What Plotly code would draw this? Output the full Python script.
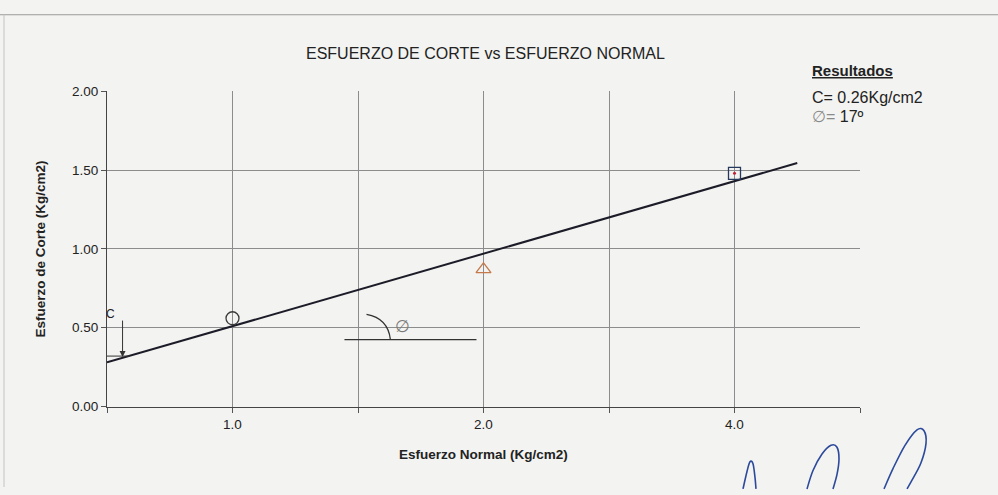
import math
from decimal import Decimal, ROUND_HALF_UP
import numpy as np
import plotly.graph_objects as go

# ---- test data (direct shear) ----
normal_stress = [1.0, 2.0, 4.0]          # Kg/cm2
shear_stress = [0.56, 0.87, 1.48]        # Kg/cm2
x_tick_labels = ["1.0", "2.0", "4.0"]
y_tick_values = [0.0, 0.5, 1.0, 1.5, 2.0]
marker_symbols = ["circle-open", "triangle-up-open", "square-open"]
marker_colors = ["#3a3a3a", "#c47a4c", "#26395c"]

W, H = 998, 495
FONT = "Liberation Sans, Arial, sans-serif"
INK = "#222222"

# category positions along the horizontal axis
pos = np.arange(len(normal_stress), dtype=float)

# trend line drawn over the category positions
slope_i, icpt_i = np.polyfit(pos, shear_stress, 1)
trend_x = np.array([-0.5, 2.25])
trend_y = icpt_i + slope_i * trend_x

# Mohr-Coulomb parameters from the real normal stresses
tan_phi, cohesion = np.polyfit(normal_stress, shear_stress, 1)
phi_deg = math.degrees(math.atan(tan_phi))
cohesion_txt = str(Decimal(str(round(cohesion, 6))).quantize(Decimal("0.01"), ROUND_HALF_UP))
phi_txt = str(Decimal(str(round(phi_deg, 6))).quantize(Decimal("1"), ROUND_HALF_UP))

# plot area placement in pixels
PL, PR, PT, PB = 107, 860, 87, 412


def paper(x, y):
    return x / W, 1 - y / H


def smooth_path(points):
    """Catmull-Rom spline through pixel points, as an SVG path in paper units."""
    pts = [paper(x, y) for x, y in points]
    d = "M %.5f,%.5f" % pts[0]
    for i in range(len(pts) - 1):
        p0 = pts[i - 1] if i > 0 else pts[i]
        p1, p2 = pts[i], pts[i + 1]
        p3 = pts[i + 2] if i + 2 < len(pts) else pts[i + 1]
        c1 = (p1[0] + (p2[0] - p0[0]) / 6, p1[1] + (p2[1] - p0[1]) / 6)
        c2 = (p2[0] - (p3[0] - p1[0]) / 6, p2[1] - (p3[1] - p1[1]) / 6)
        d += " C %.5f,%.5f %.5f,%.5f %.5f,%.5f" % (c1 + c2 + p2)
    return d


def label(px, py, text, size, bold=False, color=INK, anchor="center", angle=0):
    x, y = paper(px, py)
    return dict(x=x, y=y, xref="paper", yref="paper", xanchor=anchor, yanchor="middle",
                showarrow=False, textangle=angle,
                text="<b>%s</b>" % text if bold else text,
                font=dict(family=FONT, size=size, color=color))


fig = go.Figure()

# trend line
fig.add_trace(go.Scatter(
    x=trend_x, y=trend_y, mode="lines",
    line=dict(color="#1c1c28", width=2), hoverinfo="skip",
))

# test points
for i in range(len(normal_stress)):
    fig.add_trace(go.Scatter(
        x=[pos[i]], y=[shear_stress[i]], mode="markers",
        marker=dict(symbol=marker_symbols[i], size=13 if i < 2 else 12,
                    color=marker_colors[i], line=dict(width=1.3, color=marker_colors[i])),
    ))
# small centre dot of the square marker
fig.add_trace(go.Scatter(
    x=[pos[2]], y=[shear_stress[2]], mode="markers",
    marker=dict(symbol="circle", size=3, color="#c0223a"),
))

shapes = []
annotations = []

# page edge lines
shapes.append(dict(type="line", xref="paper", yref="paper",
                   x0=0, x1=1, y0=paper(0, 8)[1], y1=paper(0, 8)[1],
                   line=dict(color="#9a9a9a", width=1)))
shapes.append(dict(type="line", xref="paper", yref="paper",
                   x0=paper(4, 0)[0], x1=paper(4, 0)[0], y0=0, y1=paper(0, 8)[1],
                   line=dict(color="#c4c4c4", width=1)))

# angle sketch: horizontal reference, arc and phi label
shapes.append(dict(type="line", xref="x", yref="y", x0=0.446, x1=0.972, y0=0.425, y1=0.425,
                   line=dict(color="#333333", width=1.3)))
shapes.append(dict(type="path", xref="x", yref="y",
                   path="M 0.534,0.585 Q 0.620,0.560 0.629,0.425",
                   line=dict(color="#333333", width=1.3)))
annotations.append(dict(x=0.677, y=0.505, xref="x", yref="y", text="∅", showarrow=False,
                        xanchor="center", yanchor="middle",
                        font=dict(family=FONT, size=17, color="#7a7a7a")))

# cohesion marker
shapes.append(dict(type="line", xref="x", yref="y", x0=-0.5, x1=-0.41, y0=0.32, y1=0.32,
                   line=dict(color="#333333", width=1)))
annotations.append(dict(x=-0.438, y=0.315, ax=-0.438, ay=0.555, xref="x", yref="y",
                        axref="x", ayref="y", text="", showarrow=True, arrowhead=2,
                        arrowsize=1.2, arrowwidth=1, arrowcolor="#333333"))
annotations.append(dict(x=-0.486, y=0.59, xref="x", yref="y", text="C", showarrow=False,
                        xanchor="center", yanchor="middle",
                        font=dict(family=FONT, size=12, color=INK)))

# titles
annotations.append(label(485, 48, "ESFUERZO DE CORTE vs ESFUERZO NORMAL", 16))
annotations.append(label(483, 461, "Esfuerzo Normal (Kg/cm2)", 13.5, bold=True))
annotations.append(label(40, 250, "Esfuerzo de Corte (Kg/cm2)", 13.5, bold=True, angle=-90))

# results box
annotations.append(label(810, 66, "<u>Resultados</u>", 15, bold=True, anchor="left"))
annotations.append(label(810, 93, "C= %sKg/cm2" % cohesion_txt, 16, anchor="left"))
annotations.append(label(810, 113, "<span style='color:#8a8a8a'>∅=</span> %sº" % phi_txt,
                         16, anchor="left"))

# signature
signature = [
    [(743, 497), (747, 479), (750, 469), (753, 471), (755, 485), (756, 497)],
    [(807, 497), (813, 478), (822, 461), (831, 452), (837, 454), (839, 466), (837, 482), (833, 497)],
    [(884, 497), (893, 476), (905, 452), (917, 436), (924, 437), (926, 450), (921, 470),
     (912, 488), (907, 497)],
]
for stroke in signature:
    shapes.append(dict(type="path", xref="paper", yref="paper", path=smooth_path(stroke),
                       line=dict(color="#2c4a9c", width=1.6)))

x_tickvals = list(np.arange(-0.5, len(normal_stress), 0.5))
x_ticktext = []
for v in x_tickvals:
    x_ticktext.append(x_tick_labels[int(v)] if float(v).is_integer() else "")

fig.update_layout(
    width=W, height=H,
    margin=dict(l=0, r=0, t=0, b=0),
    paper_bgcolor="#f3f3f1",
    plot_bgcolor="#f3f3f1",
    showlegend=False,
    shapes=shapes,
    annotations=annotations,
    xaxis=dict(
        domain=[PL / W, PR / W], range=[-0.5, len(normal_stress) - 0.5],
        tickmode="array", tickvals=x_tickvals, ticktext=x_ticktext,
        showgrid=True, gridcolor="#8c8c8c", gridwidth=1,
        ticks="outside", ticklen=5, tickcolor="#555555",
        showline=True, linecolor="#444444", linewidth=1, zeroline=False,
        tickfont=dict(family=FONT, size=13.5, color=INK), fixedrange=True,
    ),
    yaxis=dict(
        domain=[1 - PB / H, 1 - PT / H], range=[0, 2],
        tickmode="array", tickvals=y_tick_values, tickformat=".2f",
        showgrid=True, gridcolor="#8c8c8c", gridwidth=1,
        ticks="outside", ticklen=5, tickcolor="#555555",
        showline=True, linecolor="#444444", linewidth=1, zeroline=False,
        tickfont=dict(family=FONT, size=13.5, color=INK), fixedrange=True,
    ),
)

fig.write_html("out.html")
